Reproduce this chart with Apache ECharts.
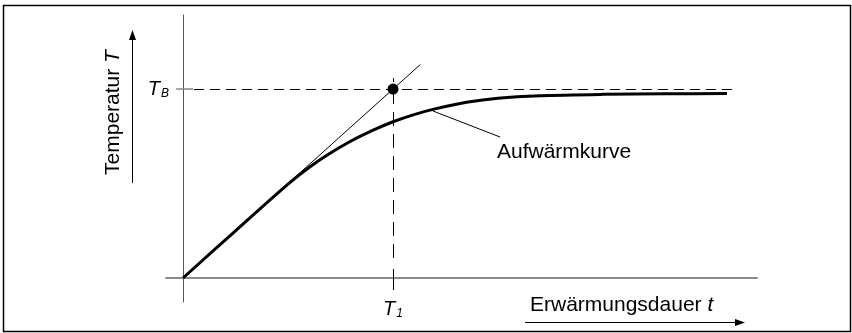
<!DOCTYPE html>
<html>
<head>
<meta charset="utf-8">
<script src="https://cdn.jsdelivr.net/npm/echarts@6/dist/echarts.min.js"></script>
<style>
  html, body { margin: 0; padding: 0; background: #fff; }
  #chart { width: 852px; height: 333px; }
</style>
</head>
<body>
<div id="chart"></div>
<script>
// Heating curve: time in units of T1, temperature in units of TB
const heatingCurve = [
  [0, 0], [0.25, 0.25], [0.5, 0.497], [0.6, 0.585], [0.7, 0.66],
  [0.8, 0.725], [0.9, 0.78], [1.0, 0.827], [1.1, 0.865], [1.2, 0.895],
  [1.35, 0.93], [1.5, 0.952], [1.7, 0.965], [2.0, 0.972], [2.3, 0.975],
  [2.59, 0.976]
];
// Initial tangent, reaching TB at T1
const tangentLine = [[0, 0], [1.13, 1.13]];
// Characteristic point (T1, TB)
const markPointT = [[1, 1]];
// Leader line to the curve label
const leaderLine = [[1.19, 0.884], [1.51, 0.746]];
const tickLabels = { tb: 'B', t1: '1' };
const curveName = 'Aufwärmkurve';
const xTitle = 'Erwärmungsdauer ';
const yTitle = 'Temperatur ';

const FONT = 'Liberation Sans, Arial, sans-serif';
const chart = echarts.init(document.getElementById('chart'), null, { renderer: 'canvas' });

const subRich = {
  i: { fontFamily: FONT, fontStyle: 'italic', fontSize: 20, color: '#000', lineHeight: 22 },
  s: { fontFamily: FONT, fontStyle: 'italic', fontSize: 12, color: '#000', padding: [10, 0, 0, 1] }
};

chart.setOption({
  animation: false,
  backgroundColor: '#fff',
  grid: { left: 166, right: 95, top: 15, bottom: 31 },
  xAxis: {
    type: 'value', min: -0.081, max: 2.733,
    axisLine: { onZero: true, lineStyle: { color: '#8a8a8a', width: 2 } },
    axisTick: { show: false }, axisLabel: { show: false }, splitLine: { show: false }
  },
  yAxis: {
    type: 'value', min: -0.127, max: 1.392,
    axisLine: { onZero: true, lineStyle: { color: '#555', width: 1 } },
    axisTick: { show: false }, axisLabel: { show: false }, splitLine: { show: false }
  },
  series: [
    {
      type: 'line', data: heatingCurve, smooth: 0.3, showSymbol: false,
      lineStyle: { color: '#000', width: 3 }, z: 5
    },
    {
      type: 'line', data: tangentLine, showSymbol: false,
      lineStyle: { color: '#000', width: 1 }
    },
    {
      type: 'line', data: leaderLine, showSymbol: false,
      lineStyle: { color: '#000', width: 1 }
    },
    {
      type: 'scatter', data: markPointT, symbolSize: 11,
      itemStyle: { color: '#000', opacity: 1 }, z: 6,
      markLine: {
        silent: true, symbol: 'none', animation: false,
        label: { show: false, fontFamily: FONT, fontSize: 20, color: '#000', rich: subRich },
        data: [
          // horizontal TB guide
          [{ coord: [0.052, 1], lineStyle: { type: [10, 6], color: '#000', width: 1 } },
           { coord: [2.619, 1] }],
          // TB tick on the temperature axis
          [{ coord: [-0.033, 1], lineStyle: { type: 'solid', color: '#8a8a8a', width: 1.5 },
             label: { show: true, position: 'start', distance: 7,
                      formatter: '{i|T}{s|' + tickLabels.tb + '}' } },
           { coord: [0.048, 1] }],
          // vertical T1 guide
          [{ coord: [1, 0.106], lineStyle: { type: [14, 8], color: '#000', width: 1 } },
           { coord: [1, 1.058] }],
          // T1 tick on the time axis
          [{ coord: [1, -0.0635], lineStyle: { type: 'solid', color: '#000', width: 1 },
             label: { show: true, position: 'start', distance: 8,
                      formatter: '{i|T}{s|' + tickLabels.t1 + '}' } },
           { coord: [1, 0.048] }]
        ]
      }
    }
  ],
  graphic: [
    { type: 'rect', shape: { x: 3.5, y: 5.5, width: 847, height: 326 },
      style: { fill: 'none', stroke: '#000', lineWidth: 1.5 }, silent: true },
    // temperature arrow
    { type: 'line', shape: { x1: 132.5, y1: 183, x2: 132.5, y2: 38 },
      style: { stroke: '#000', lineWidth: 1 } },
    { type: 'polygon', shape: { points: [[132.5, 30], [129, 40], [136, 40]] },
      style: { fill: '#000' } },
    { type: 'text', x: 113, y: 112.5, rotation: Math.PI / 2,
      style: { text: '{n|' + yTitle + '}{i|T}', align: 'center', verticalAlign: 'middle',
               rich: { n: { fontFamily: FONT, fontSize: 21, color: '#000' },
                       i: { fontFamily: FONT, fontSize: 21, fontStyle: 'italic', color: '#000' } } } },
    // time arrow
    { type: 'line', shape: { x1: 525, y1: 322.5, x2: 737, y2: 322.5 },
      style: { stroke: '#000', lineWidth: 1 } },
    { type: 'polygon', shape: { points: [[745, 322.5], [735, 319], [735, 326]] },
      style: { fill: '#000' } },
    { type: 'text', x: 530, y: 305,
      style: { text: '{n|' + xTitle + '}{i|t}', align: 'left', verticalAlign: 'middle',
               rich: { n: { fontFamily: FONT, fontSize: 21, color: '#000' },
                       i: { fontFamily: FONT, fontSize: 21, fontStyle: 'italic', color: '#000' } } } },
    // curve label
    { type: 'text', x: 497, y: 152,
      style: { text: curveName, align: 'left', verticalAlign: 'middle',
               fontFamily: FONT, fontSize: 21, fill: '#000' } }
  ]
});
</script>
</body>
</html>
